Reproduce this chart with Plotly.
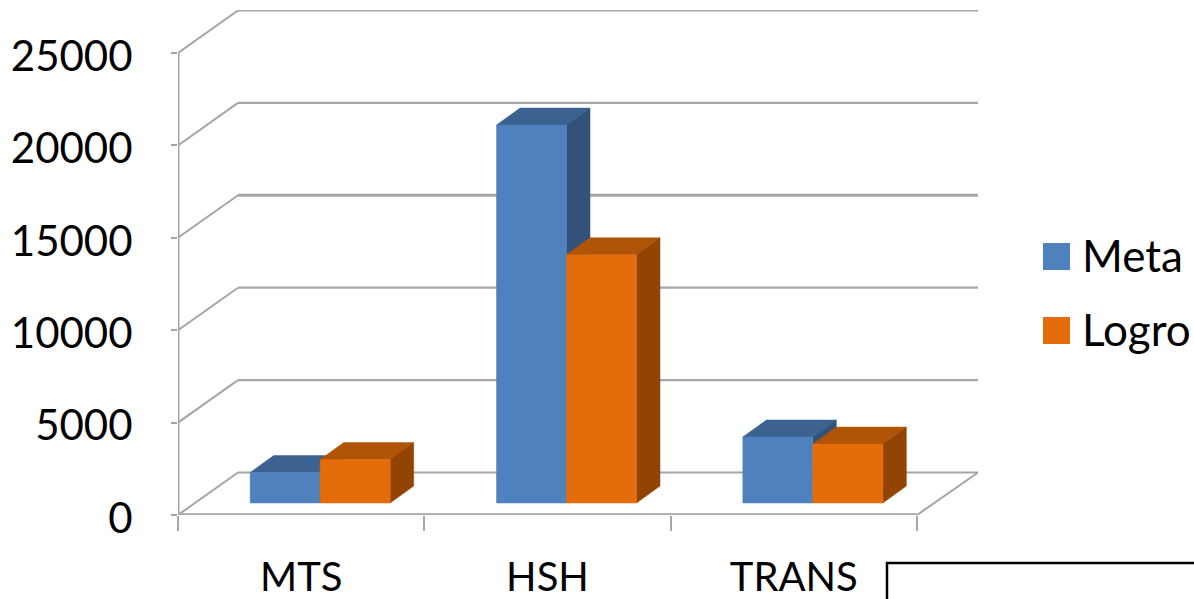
import plotly.graph_objects as go

categories = ["MTS", "HSH", "TRANS"]
meta_values = [1650, 20450, 3570]
logro_values = [2350, 13430, 3190]
y_ticks = [0, 5000, 10000, 15000, 20000, 25000]
series_names = ["Meta", "Logro"]

W, H = 1194, 599
PX_CAT = 246.33
PX_VAL = 92.4 / 5000
X0, Y0 = 178, 515
BACK_DX, BACK_DY = 60 / PX_CAT, 42.5 / PX_VAL
FLOOR = 12 / PX_VAL
BAR_W = 70 / PX_CAT
BAR_SHIFT = 19 / PX_CAT
DEP_DX, DEP_DY = 23.5 / PX_CAT, 17 / PX_VAL
GREY = "#a6a6a6"
FONT = "Lato"

X_LEFT, X_RIGHT = -0.5, 2.5
x_end = X_RIGHT + 61 / PX_CAT
y_end = (Y0 - 10) / PX_VAL

fig = go.Figure()


def line(xs, ys, width=2.2, color=GREY):
    fig.add_trace(go.Scatter(x=xs, y=ys, mode="lines", showlegend=False, hoverinfo="skip",
                             cliponaxis=False, line=dict(color=color, width=width)))


def face(xs, ys, color, name):
    fig.add_trace(go.Scatter(x=xs + xs[:1], y=ys + ys[:1], mode="lines", fill="toself", fillcolor=color,
                             line=dict(color=color, width=0.5), showlegend=False, name=name,
                             hoverinfo="name"))


# walls and floor
for v in y_ticks:
    line([X_LEFT, X_LEFT + BACK_DX], [v, v + BACK_DY], width=2)
    line([X_LEFT + BACK_DX, x_end], [v + BACK_DY, v + BACK_DY], width=3 if v == 15000 else 2.2)
line([X_LEFT, X_RIGHT], [0, 0], width=3.5)
line([X_RIGHT, x_end], [0, BACK_DY], width=2)
line([X_LEFT, X_LEFT], [0, y_ticks[-1]], width=3)

# bars, back to front and left to right
palette = [("#4f81bd", "#3c6291", "#33527a"), ("#e46c0a", "#b05508", "#934403")]
for i, cat in enumerate(categories):
    for s, vals in enumerate([meta_values, logro_values]):
        front, top, side = palette[s]
        left = i + BAR_SHIFT + (s - 1) * BAR_W
        right = left + BAR_W
        y_top = FLOOR + vals[i]
        name = f"{series_names[s]} {cat}"
        face([left, left + DEP_DX, right + DEP_DX, right], [y_top, y_top + DEP_DY, y_top + DEP_DY, y_top], top, name)
        face([right, right + DEP_DX, right + DEP_DX, right],
             [FLOOR, FLOOR + DEP_DY, y_top + DEP_DY, y_top], side, name)
        face([left, right, right, left], [FLOOR, FLOOR, y_top, y_top], front, name)

shapes = []
annotations = []
for k, (name, yc) in enumerate(zip(series_names, [256.5, 330.5])):
    shapes.append(dict(type="rect", xref="paper", yref="paper", x0=1043 / W, x1=1070 / W,
                       y0=1 - (yc + 13.5) / H, y1=1 - (yc - 13.5) / H,
                       fillcolor=palette[k][0], line_width=0))
    annotations.append(dict(text=name, xref="paper", yref="paper", x=1083 / W, y=1 - (yc - 2) / H,
                            xanchor="left", yanchor="middle", showarrow=False, xshift=-3,
                            font=dict(family=FONT, size=44, color="#000000")))
# frame corner at the lower right of the picture
shapes.append(dict(type="path", xref="paper", yref="paper", line=dict(color="#000000", width=2.5),
                   path=f"M {887/W} 0 L {887/W} {1-563/H} L 1 {1-563/H}"))

fig.update_layout(
    width=W, height=H, margin=dict(l=0, r=0, t=0, b=0),
    paper_bgcolor="white", plot_bgcolor="white", showlegend=False,
    shapes=shapes, annotations=annotations,
    xaxis=dict(domain=[X0 / W, (X0 + (x_end - X_LEFT) * PX_CAT) / W], range=[X_LEFT, x_end],
               automargin=False,
               tickmode="array", tickvals=[0, 1, 2], ticktext=categories, ticks="", ticklen=0,
               ticklabelstandoff=35, showgrid=False, zeroline=False, showline=False,
               tickfont=dict(family=FONT, size=40, color="#000000"),
               minor=dict(tickmode="array", tickvals=[-0.5, 0.5, 1.5, 2.5], ticks="outside",
                          ticklen=15, tickwidth=2, tickcolor=GREY, showgrid=False)),
    yaxis=dict(domain=[1 - Y0 / H, 1 - 10 / H], range=[0, y_end], automargin=False,
               tickmode="array", tickvals=y_ticks, ticktext=[str(v) for v in y_ticks],
               ticks="outside", ticklen=6, tickwidth=2, tickcolor=GREY,
               ticklabelstandoff=30, ticklabelshift=3, showgrid=False, zeroline=False, showline=False,
               tickfont=dict(family=FONT, size=42, color="#000000")),
)

fig.write_html("out.html", config={"displayModeBar": False},
               post_script="document.body.style.margin='0';document.body.style.overflow='hidden';")
